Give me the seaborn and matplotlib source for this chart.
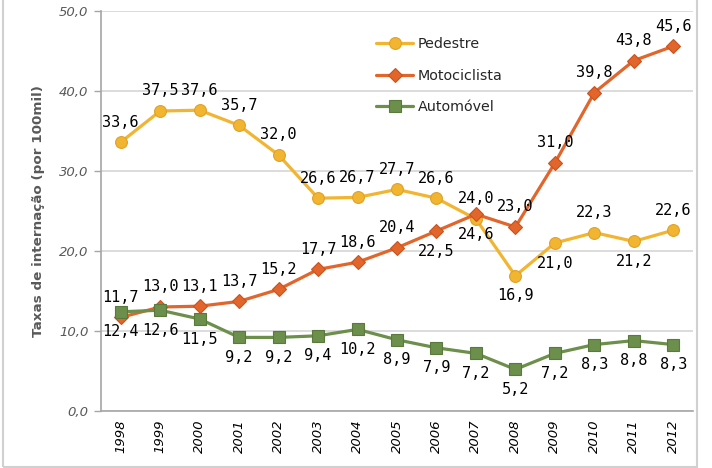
import matplotlib
matplotlib.use("Agg")
import matplotlib.pyplot as plt
import seaborn as sns
import pandas as pd
import numpy as np
from matplotlib.patches import Rectangle

years = ["1998", "1999", "2000", "2001", "2002", "2003", "2004", "2005",
         "2006", "2007", "2008", "2009", "2010", "2011", "2012"]
pedestre = [33.6, 37.5, 37.6, 35.7, 32.0, 26.6, 26.7, 27.7, 26.6, 24.0, 16.9, 21.0, 22.3, 21.2, 22.6]
motociclista = [11.7, 13.0, 13.1, 13.7, 15.2, 17.7, 18.6, 20.4, 22.5, 24.6, 23.0, 31.0, 39.8, 43.8, 45.6]
automovel = [12.4, 12.6, 11.5, 9.2, 9.2, 9.4, 10.2, 8.9, 7.9, 7.2, 5.2, 7.2, 8.3, 8.8, 8.3]
series_names = ["Pedestre", "Motociclista", "Automóvel"]
y_ticks = [0, 10, 20, 30, 40, 50]

# label placement: +1 above the point, -1 below
ped_pos = [1, 1, 1, 1, 1, 1, 1, 1, 1, 1, -1, -1, 1, -1, 1]
moto_pos = [1, 1, 1, 1, 1, 1, 1, 1, -1, -1, 1, 1, 1, 1, 1]
auto_pos = [-1] * 15

sns.set_style("white")
plt.rcParams['font.family'] = ['DejaVu Sans']

colors = {"Pedestre": "#F2B531", "Motociclista": "#E2652B", "Automóvel": "#6D8F4C"}
edges = {"Pedestre": "#E0A125", "Motociclista": "#C9531E", "Automóvel": "#5A7A3C"}
markers = {"Pedestre": "o", "Motociclista": "D", "Automóvel": "s"}
msizes = {"Pedestre": 8.5, "Motociclista": 7.5, "Automóvel": 8}

rows = []
for name, vals in zip(series_names, [pedestre, motociclista, automovel]):
    for i, v in enumerate(vals):
        rows.append({"x": i, "valor": v, "serie": name})
df = pd.DataFrame(rows)

fig = plt.figure(figsize=(7.12, 4.68), dpi=100)
ax = fig.add_axes([101/712, 1-411/468, (693-101)/712, (411-11)/468])

for name in series_names:
    sub = df[df.serie == name]
    sns.lineplot(data=sub, x="x", y="valor", ax=ax, color=colors[name],
                 linewidth=2.3, marker=markers[name], markersize=msizes[name],
                 markerfacecolor=colors[name], markeredgecolor=edges[name],
                 markeredgewidth=0.8, label=name, zorder=3)

lab_font = dict(family="DejaVu Sans Mono", fontsize=11, color="black")
for vals, pos in [(pedestre, ped_pos), (motociclista, moto_pos), (automovel, auto_pos)]:
    for i, (v, p) in enumerate(zip(vals, pos)):
        ax.annotate(f"{v:.1f}".replace(".", ","), (i, v), xytext=(0, 14.5 * p),
                    textcoords="offset points", ha="center", va="center",
                    zorder=5, **lab_font)

ax.set_xlim(-0.5, 14.5)
ax.set_ylim(0, 50)
ax.set_yticks(y_ticks)
ax.set_yticklabels([f"{t:.1f}".replace(".", ",") for t in y_ticks],
                   fontstyle="italic", color="#595959", fontsize=9.5)
ax.set_xticks(range(len(years)))
ax.set_xticklabels(years, rotation=90, fontstyle="italic", fontsize=9.5, color="black")
ax.set_xticks(np.arange(-0.5, 15, 1), minor=True)
ax.tick_params(axis="x", which="major", length=0, pad=6)
ax.tick_params(axis="x", which="minor", length=5, color="#A6A6A6", width=1)
ax.tick_params(axis="y", which="major", length=5, color="#A6A6A6", width=1, left=True, pad=4)
ax.grid(axis="y", color="#D9D9D9", linewidth=1.3)
ax.set_axisbelow(True)
for s in ["top", "right"]:
    ax.spines[s].set_visible(False)
for s in ["left", "bottom"]:
    ax.spines[s].set_color("#A6A6A6")
    ax.spines[s].set_linewidth(1.2)

ax.set_xlabel("")
ax.set_ylabel("Taxas de internação (por 100mil)", fontweight="bold",
              color="#595959", fontsize=9.7, labelpad=10)

leg = ax.legend(loc="upper left", bbox_to_anchor=(0.455, 0.95), frameon=False,
                fontsize=10.3, labelspacing=1.25, handlelength=2.6, handletextpad=0.3,
                borderaxespad=0)

fig.patches.append(Rectangle((3/712, 1/468), (697-3)/712, 470/468,
                             transform=fig.transFigure, fill=False,
                             edgecolor="#D0D0D0", linewidth=1.5, zorder=0))

fig.savefig("out.png", dpi=100)
